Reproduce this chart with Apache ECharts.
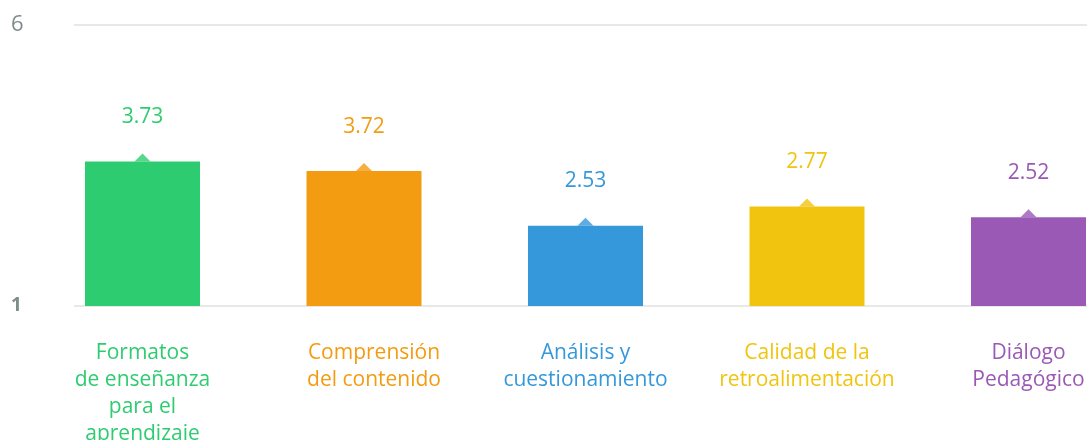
<!DOCTYPE html>
<html>
<head>
    <title>Dimensiones</title>
    <meta charset="utf-8" />
    <script src="https://cdn.jsdelivr.net/npm/echarts@6/dist/echarts.min.js"></script>
    <style type="text/css">
        html,
        body {
            width: 100%;
            height: 100%;
            margin: 0;
            background: #fff;
        }

        #chart {
            width: 1087px;
            height: 440px;
        }
    </style>
</head>

<body>
    <div id="chart"></div>
    <script>
        // datos
        var categories = ['Formatos\nde enseñanza\npara el\naprendizaje', 'Comprensión\ndel contenido',
            'Análisis y\ncuestionamiento', 'Calidad de la\nretroalimentación', 'Diálogo\nPedagógico'];
        var barValues = [3.57, 3.40, 2.43, 2.77, 2.58];
        var shownValues = ['3.73', '3.72', '2.53', '2.77', '2.52'];
        var yTicks = [1, 6];
        var colors = ['#2ecc71', '#f39c12', '#3498db', '#f1c40f', '#9b59b6'];

        var font = '"Open Sans", sans-serif';
        var myChart = echarts.init(document.getElementById('chart'));

        var option = {
            animation: false,
            grid: [
                { left: 74, right: 0, top: 25, bottom: 134, outerBoundsMode: 'none' },
                // rejilla de las barras, mas ancha para centrar cada barra en su banda
                { left: 31.75, width: 1107.5, top: 25, bottom: 134, outerBoundsMode: 'none' }
            ],
            xAxis: [{
                gridIndex: 0,
                type: 'value',
                show: false
            }, {
                gridIndex: 1,
                type: 'category',
                data: categories,
                axisLine: { show: false },
                axisTick: { show: false },
                axisLabel: {
                    interval: 0,
                    margin: 34,
                    fontFamily: font,
                    fontSize: 21,
                    lineHeight: 27,
                    color: function (value, index) {
                        return colors[index];
                    },
                    formatter: function (value, index) {
                        // el segundo texto va un poco corrido a la derecha
                        return index === 1 ? '{s|' + value.split('\n').join('}\n{s|') + '}' : value;
                    },
                    rich: {
                        s: { fontFamily: font, fontSize: 21, lineHeight: 27, padding: [0, 0, 0, 20] }
                    }
                }
            }],
            yAxis: [{
                gridIndex: 0,
                type: 'value',
                min: yTicks[0],
                max: yTicks[1],
                interval: 5,
                axisLine: { show: false },
                axisTick: { show: false },
                splitLine: { lineStyle: { color: '#e8e8e8', width: 2 } },
                axisLabel: {
                    align: 'left',
                    margin: 63,
                    formatter: function (v) {
                        return v === yTicks[0] ? '{a|' + v + '}' : '{b|' + v + '}';
                    },
                    rich: {
                        a: { fontFamily: font, fontSize: 19, fontWeight: 'bold', color: '#7f8c8d' },
                        b: { fontFamily: font, fontSize: 22, color: '#7f8c8d' }
                    }
                }
            }, {
                gridIndex: 1,
                type: 'value',
                min: yTicks[0],
                max: yTicks[1],
                show: false
            }],
            series: [{
                type: 'bar',
                xAxisIndex: 1,
                yAxisIndex: 1,
                barWidth: 115,
                clip: true,
                data: barValues,
                itemStyle: {
                    color: function (p) {
                        return colors[p.dataIndex];
                    }
                },
                label: {
                    show: true,
                    position: 'top',
                    distance: 34,
                    fontFamily: font,
                    fontSize: 21,
                    formatter: function (p) {
                        return shownValues[p.dataIndex];
                    },
                    color: 'inherit'
                }
            }, {
                type: 'scatter',
                xAxisIndex: 1,
                yAxisIndex: 1,
                symbol: 'triangle',
                symbolSize: [16, 8],
                symbolOffset: [0, -4],
                data: barValues,
                itemStyle: {
                    color: function (p) {
                        return colors[p.dataIndex];
                    }
                },
                silent: true
            }]
        };

        myChart.setOption(option);
    </script>
</body>
</html>
